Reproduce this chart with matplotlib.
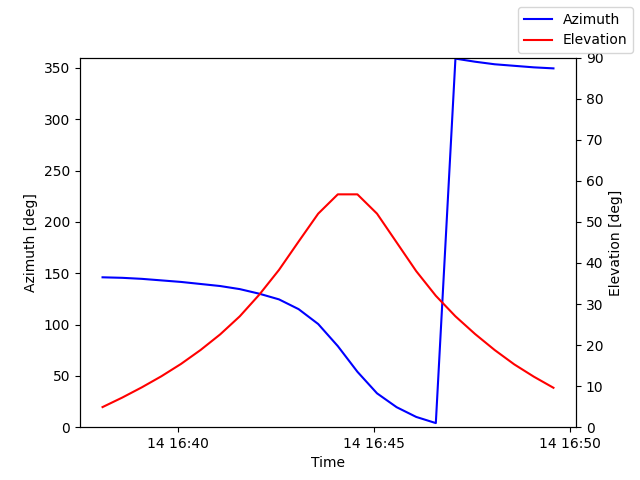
import matplotlib
matplotlib.use("Agg")
import matplotlib.pyplot as plt
import matplotlib.dates as mdates
import pandas as pd

times = pd.date_range("2024-01-14 16:38:05", periods=24, freq="30s")
azimuth = [146, 145.5, 144.5, 143, 141.5, 139.5, 137.5, 134.5, 130, 124.5, 115, 100.5,
           79, 54, 33, 19.5, 10, 4, 359, 356, 353.5, 352, 350.5, 349.5]
elevation = [4.9, 7.2, 9.7, 12.4, 15.4, 18.8, 22.6, 27, 32.3, 38.3, 45.2, 52,
             56.7, 56.7, 52, 45, 38, 32, 27, 22.7, 18.8, 15.3, 12.3, 9.6]

fig, ax = plt.subplots(figsize=(6.4, 4.8), dpi=100)
ax.plot(times, azimuth, color="blue", label="Azimuth")
ax.set_ylim(0, 360)
ax.set_ylabel("Azimuth [deg]")
ax.set_xlabel("Time")
ax2 = ax.twinx()
ax2.plot(times, elevation, color="red", label="Elevation")
ax2.set_ylim(0, 90)
ax2.set_ylabel("Elevation [deg]")
ax.xaxis.set_major_locator(mdates.MinuteLocator(byminute=range(0, 60, 5)))
ax.xaxis.set_major_formatter(mdates.DateFormatter("%d %H:%M"))
fig.legend(loc="upper right")
fig.savefig("out.png")
